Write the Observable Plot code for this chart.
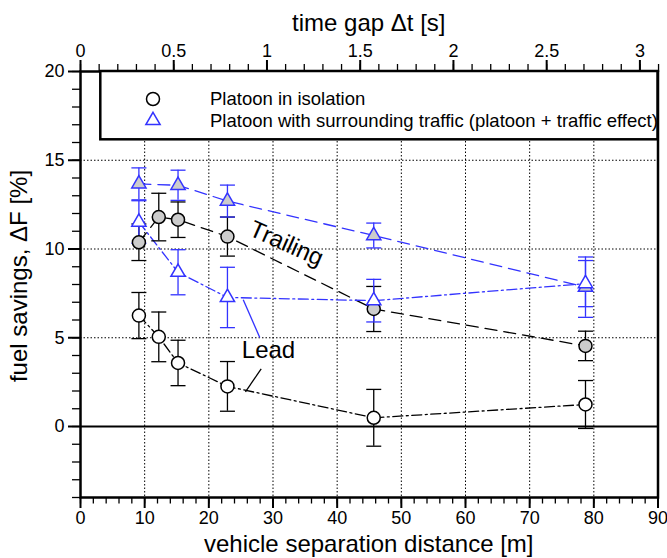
<!DOCTYPE html>
<html><head><meta charset="utf-8">
<script src="https://cdn.jsdelivr.net/npm/d3@7"></script>
<script src="https://cdn.jsdelivr.net/npm/@observablehq/plot@0.6"></script>
<style>
body{margin:0;background:#fff;}
#chart svg{font-family:"Liberation Sans", Arial, Helvetica, sans-serif;}
</style>
</head><body><div id="chart"></div>
<script>
// ---- data ----
const speed = 29.06; // m/s, converts distance to time gap for the top axis
const xIso = [9.1, 12.2, 15.2, 22.9, 45.7, 78.7];
const yLeadIso = [6.25, 5.05, 3.58, 2.26, 0.49, 1.24];
const eLeadIso = [1.3, 1.4, 1.28, 1.4, 1.6, 1.35];
const yTrailIso = [10.38, 11.8, 11.65, 10.7, 6.62, 4.54];
const eTrailIso = [1.03, 1.34, 1.0, 1.1, 1.27, 0.83];
const xTraffic = [9.1, 15.2, 22.9, 45.7, 78.7];
const yTrailTraffic = [13.67, 13.59, 12.7, 10.76, 7.85];
const eTrailTraffic = [0.9, 0.85, 0.9, 0.7, 1.7];
const yLeadTraffic = [11.52, 8.69, 7.27, 7.09, 8.05];
const eLeadTraffic = [1.2, 1.27, 1.7, 1.2, 1.3];

const xMajor = [0, 10, 20, 30, 40, 50, 60, 70, 80, 90];
const xMinor = d3.range(0, 90.001, 2);
const yMajor = [0, 5, 10, 15, 20];
const yMinor = d3.range(-4, 20.001, 1);
const tMajor = [0, 0.5, 1, 1.5, 2, 2.5, 3];
const tMinor = d3.range(0, 3.1001, 0.1);
const gridX = [10, 20, 30, 40, 50, 60, 70, 80];
const gridY = [5, 10, 15];

const legendLabels = ["Platoon in isolation", "Platoon with surrounding traffic (platoon + traffic effect)"];
const annoText = [{x: 32.1, y: 10.3, text: "Trailing", rotate: 24}, {x: 29.3, y: 4.3, text: "Lead", rotate: 0}];
const leaderBlue = [{x1: 25.36, y1: 7.14, x2: 27.94, y2: 5.01}];
const leaderBlack = [{x1: 28.16, y1: 3.25, x2: 25.71, y2: 1.95}];

const blue = "#3333ff";
const gray = "#cccccc";

function rows(xs, ys, es) { return xs.map((x, i) => ({x, y: ys[i], lo: ys[i] - es[i], hi: ys[i] + es[i]})); }
const leadIso = rows(xIso, yLeadIso, eLeadIso);
const trailIso = rows(xIso, yTrailIso, eTrailIso);
const trailTr = rows(xTraffic, yTrailTraffic, eTrailTraffic);
const leadTr = rows(xTraffic, yLeadTraffic, eLeadTraffic);

const cap = {draw(ctx, size) { const r = Math.sqrt(size / Math.PI); ctx.moveTo(-r, 0); ctx.lineTo(r, 0); }};
function errorMarks(data, color) {
  return [
    Plot.ruleX(data, {x: "x", y1: "lo", y2: "hi", stroke: color, strokeWidth: 1.3}),
    Plot.dot(data, {x: "x", y: "lo", symbol: cap, r: 7.5, stroke: color, fill: "none", strokeWidth: 1.3}),
    Plot.dot(data, {x: "x", y: "hi", symbol: cap, r: 7.5, stroke: color, fill: "none", strokeWidth: 1.3})
  ];
}
const dashDot = "10,3.5,2,3.5";
const dashed = "12,7";

const chart = Plot.plot({
  width: 667, height: 558,
  marginTop: 71, marginLeft: 80, marginRight: 9.5, marginBottom: 61,
  style: {fontFamily: "'Liberation Sans', Arial, sans-serif", background: "white", color: "black"},
  x: {domain: [0, 90], label: null},
  y: {domain: [-4, 20], label: null},
  marks: [
    Plot.ruleX(gridX, {stroke: "black", strokeWidth: 1, strokeDasharray: "1.5,2"}),
    Plot.ruleY(gridY, {stroke: "black", strokeWidth: 1, strokeDasharray: "1.5,2"}),
    Plot.ruleY([0], {stroke: "black", strokeWidth: 2}),
    // connecting lines
    Plot.line(leadIso, {x: "x", y: "y", stroke: "black", strokeWidth: 1.3, strokeDasharray: dashDot}),
    Plot.line(trailIso, {x: "x", y: "y", stroke: "black", strokeWidth: 1.3, strokeDasharray: dashed}),
    Plot.line(trailTr, {x: "x", y: "y", stroke: blue, strokeWidth: 1.3, strokeDasharray: dashed}),
    Plot.line(leadTr, {x: "x", y: "y", stroke: blue, strokeWidth: 1.3, strokeDasharray: dashDot}),
    // error bars
    ...errorMarks(leadIso, "black"),
    ...errorMarks(trailIso, "black"),
    ...errorMarks(trailTr, blue),
    ...errorMarks(leadTr, blue),
    // markers
    Plot.dot(leadIso, {x: "x", y: "y", symbol: "circle", r: 6.5, fill: "white", stroke: "black", strokeWidth: 1.5}),
    Plot.dot(trailIso, {x: "x", y: "y", symbol: "circle", r: 6.5, fill: gray, stroke: "black", strokeWidth: 1.5}),
    Plot.dot(trailTr, {x: "x", y: "y", symbol: "triangle", r: 5.3, fill: gray, stroke: blue, strokeWidth: 1.5}),
    Plot.dot(leadTr, {x: "x", y: "y", symbol: "triangle", r: 5.3, fill: "white", stroke: blue, strokeWidth: 1.5}),
    // annotations
    Plot.link(leaderBlue, {x1: "x1", y1: "y1", x2: "x2", y2: "y2", stroke: blue, strokeWidth: 1.3}),
    Plot.link(leaderBlack, {x1: "x1", y1: "y1", x2: "x2", y2: "y2", stroke: "black", strokeWidth: 1.3}),
    Plot.text(annoText, {x: "x", y: "y", text: "text", rotate: "rotate", fontSize: 24, fill: "black"}),
    // axes
    Plot.axisX(xMinor, {anchor: "bottom", tickSize: 6.5, tickFormat: () => "", strokeWidth: 1.3, label: null}),
    Plot.axisX(xMajor, {anchor: "bottom", tickSize: 11, tickPadding: 3, strokeWidth: 2, fontSize: 18, label: null}),
    Plot.axisY(yMinor, {anchor: "left", tickSize: 8, tickFormat: () => "", strokeWidth: 1.3, label: null}),
    Plot.axisY(yMajor, {anchor: "left", tickSize: 12, tickPadding: 4, strokeWidth: 2, fontSize: 18, label: null}),
    Plot.axisX(tMinor.map(t => t * speed).filter(d => d <= 90.2), {anchor: "top", tickSize: 8, tickFormat: () => "", strokeWidth: 1.3, label: null}),
    Plot.axisX(tMajor.map(t => t * speed), {anchor: "top", tickSize: 12, tickPadding: 3, strokeWidth: 2, fontSize: 18, label: null,
      tickFormat: d => String(Math.round(d / speed * 10) / 10)}),
    Plot.frame({stroke: "black", strokeWidth: 2.5})
  ]
});
document.getElementById("chart").appendChild(chart);

// ---- legend and axis titles ----
const svg = d3.select(chart);
const g = svg.append("g");
g.append("rect").attr("x", 100.3).attr("y", 71).attr("width", 557.2).attr("height", 68.3)
  .attr("fill", "white").attr("stroke", "black").attr("stroke-width", 2.5);
g.append("circle").attr("cx", 153).attr("cy", 99).attr("r", 6.5).attr("fill", "white").attr("stroke", "black").attr("stroke-width", 1.5);
g.append("path").attr("transform", "translate(153,120.5)").attr("d", d3.symbol(d3.symbolTriangle, 5.3 * 5.3 * Math.PI)())
  .attr("fill", "white").attr("stroke", blue).attr("stroke-width", 1.5);
legendLabels.forEach((t, i) => {
  g.append("text").attr("x", 210).attr("y", 99 + i * 21.5).attr("dy", "0.35em")
    .attr("text-anchor", "start").attr("font-size", 18.5).attr("fill", "black").text(t);
});
const titles = [
  {text: "time gap Δt [s]", x: 368.75, y: 31, rotate: 0},
  {text: "vehicle separation distance [m]", x: 368.75, y: 552, rotate: 0},
  {text: "fuel savings, ΔF [%]", x: 27, y: 276, rotate: -90}
];
titles.forEach(t => {
  g.append("text").attr("transform", `translate(${t.x},${t.y}) rotate(${t.rotate})`)
    .attr("text-anchor", "middle").attr("font-size", 24).attr("fill", "black").text(t.text);
});
</script>
</body></html>
